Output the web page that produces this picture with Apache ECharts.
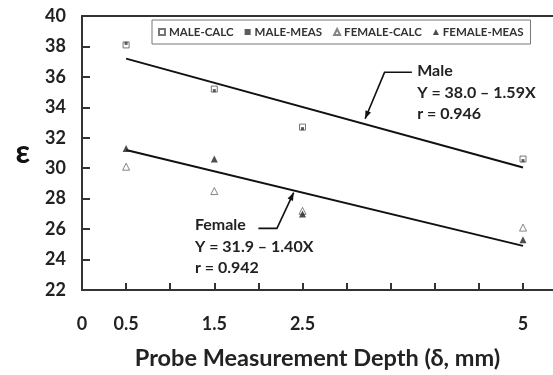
<!DOCTYPE html>
<html><head><meta charset="utf-8">
<script src="https://cdn.jsdelivr.net/npm/echarts@6/dist/echarts.min.js"></script>
<style>html,body{margin:0;padding:0;background:#fff}#c{width:553px;height:375px}</style>
</head><body><div id="c"></div>
<script>
const depths = [0.5, 1.5, 2.5, 5];
const maleCalc = [38.1, 35.2, 32.7, 30.6];
const maleMeas = [38.2, 35.1, 32.6, 30.5];
const femaleCalc = [30.1, 28.5, 27.2, 26.1];
const femaleMeas = [31.3, 30.6, 27.0, 25.3];
const fitX = [0.5, 5];
const maleFit = [37.2, 30.05];
const femaleFit = [31.2, 24.9];
const xTickValues = [0.5, 1, 1.5, 2, 2.5, 3, 3.5, 4, 4.5, 5];
const xLabelValues = [0, 0.5, 1.5, 2.5, 5];
const seriesNames = ['MALE-CALC', 'MALE-MEAS', 'FEMALE-CALC', 'FEMALE-MEAS'];
const maleNote = ['Male', 'Y = 38.0 \u2013 1.59X', 'r = 0.946'];
const femaleNote = ['Female', 'Y = 31.9 \u2013 1.40X', 'r = 0.942'];
// annotation anchors in data space: text origin, elbow start, elbow, arrow tip
const maleLeader = {text: [3.8, 36.38], h: [3.74, 36.3], elbow: [3.43, 36.3], tip: [3.21, 33.25]};
const femaleLeader = {text: [1.28, 26.25], h: [2.0, 26.05], elbow: [2.21, 26.05], tip: [2.40, 28.4]};

const FONT = 'Lato, "Open Sans", sans-serif';
const pair = (xs, ys) => xs.map((x, i) => [x, ys[i]]);

const chart = echarts.init(document.getElementById('c'), null, {renderer: 'canvas'});
chart.setOption({
  animation: false,
  backgroundColor: '#fff',
  textStyle: {fontFamily: FONT},
  grid: {left: 82, right: 0, top: 16, bottom: 85, containLabel: false, outerBoundsMode: 'none'},
  legend: {
    left: 152, top: 20, width: 390,
    data: seriesNames,
    backgroundColor: '#fff', borderColor: '#777', borderWidth: 1, borderRadius: 0,
    padding: [6, 7, 6, 6], itemGap: 11, itemWidth: 6, itemHeight: 6,
    textStyle: {fontFamily: FONT, fontWeight: 'bold', fontSize: 11.5, color: '#333', padding: [0, 0, 0, -1]}
  },
  xAxis: [{
    type: 'value', min: 0, max: 5.34, position: 'bottom',
    axisLine: {show: true, lineStyle: {color: '#333', width: 2}},
    axisTick: {show: true, inside: true, length: 7, customValues: xTickValues, lineStyle: {color: '#333', width: 2}},
    axisLabel: {customValues: xLabelValues, margin: 25, fontFamily: FONT, fontWeight: 'bold', fontSize: 18, color: '#222'},
    splitLine: {show: false},
    name: 'Probe Measurement Depth (\u03b4, mm)', nameLocation: 'middle', nameGap: 56,
    nameTextStyle: {fontFamily: FONT, fontWeight: 'bold', fontSize: 23.5, color: '#222'}
  }, {
    type: 'value', min: 0, max: 5.34, position: 'top',
    axisLine: {show: true, lineStyle: {color: '#333', width: 2}},
    axisTick: {show: false}, axisLabel: {show: false}, splitLine: {show: false}
  }],
  yAxis: {
    type: 'value', min: 22, max: 40, interval: 2,
    axisLine: {show: true, lineStyle: {color: '#333', width: 2}},
    axisTick: {show: true, inside: true, length: 8, lineStyle: {color: '#333', width: 2}},
    axisLabel: {margin: 16, fontFamily: FONT, fontWeight: 'bold', fontSize: 18, color: '#222'},
    splitLine: {show: false},
    name: '\u03b5', nameLocation: 'middle', nameRotate: 0, nameGap: 52,
    nameTextStyle: {fontFamily: FONT, fontWeight: 'bold', fontSize: 32, color: '#111', padding: [0, 0, 9, 0]}
  },
  series: [
    {name: 'Male fit', type: 'line', data: pair(fitX, maleFit), symbol: 'none', lineStyle: {color: '#111', width: 2}, z: 1},
    {name: 'Female fit', type: 'line', data: pair(fitX, femaleFit), symbol: 'none', lineStyle: {color: '#111', width: 2}, z: 1},
    {name: seriesNames[0], type: 'scatter', data: pair(depths, maleCalc), symbol: 'rect', symbolSize: 6,
      itemStyle: {color: '#fff', borderColor: '#555', borderWidth: 1}, z: 3},
    {name: seriesNames[1], type: 'scatter', data: pair(depths, maleMeas), symbol: 'rect', symbolSize: 3,
      itemStyle: {color: '#333'}, z: 4},
    {name: seriesNames[2], type: 'scatter', data: pair(depths, femaleCalc), symbol: 'triangle', symbolSize: 7,
      itemStyle: {color: '#fff', borderColor: '#666', borderWidth: 1}, z: 3},
    {name: seriesNames[3], type: 'scatter', data: pair(depths, femaleMeas), symbol: 'triangle', symbolSize: 7,
      itemStyle: {color: '#222'}, z: 4}
  ]
});

function px(p) { return chart.convertToPixel({gridIndex: 0}, p); }
function note(lines, leader) {
  const t = px(leader.text), h = px(leader.h), e = px(leader.elbow), tip = px(leader.tip);
  const els = [];
  lines.forEach((s, i) => {
    els.push({type: 'text', x: t[0], y: t[1] + i * 21.5, style: {text: s, fill: '#222', font: 'bold 16px ' + FONT, textVerticalAlign: 'middle'}});
  });
  els.push({type: 'polyline', shape: {points: [h, e, tip]}, style: {stroke: '#111', lineWidth: 1.6, fill: null}});
  const dx = tip[0] - e[0], dy = tip[1] - e[1], L = Math.hypot(dx, dy), ux = dx / L, uy = dy / L;
  const bx = tip[0] - ux * 8, by = tip[1] - uy * 8;
  els.push({type: 'polygon', shape: {points: [tip, [bx - uy * 3, by + ux * 3], [bx + uy * 3, by - ux * 3]]}, style: {fill: '#111'}});
  return els;
}
chart.setOption({graphic: note(maleNote, maleLeader).concat(note(femaleNote, femaleLeader))});
</script></body></html>
